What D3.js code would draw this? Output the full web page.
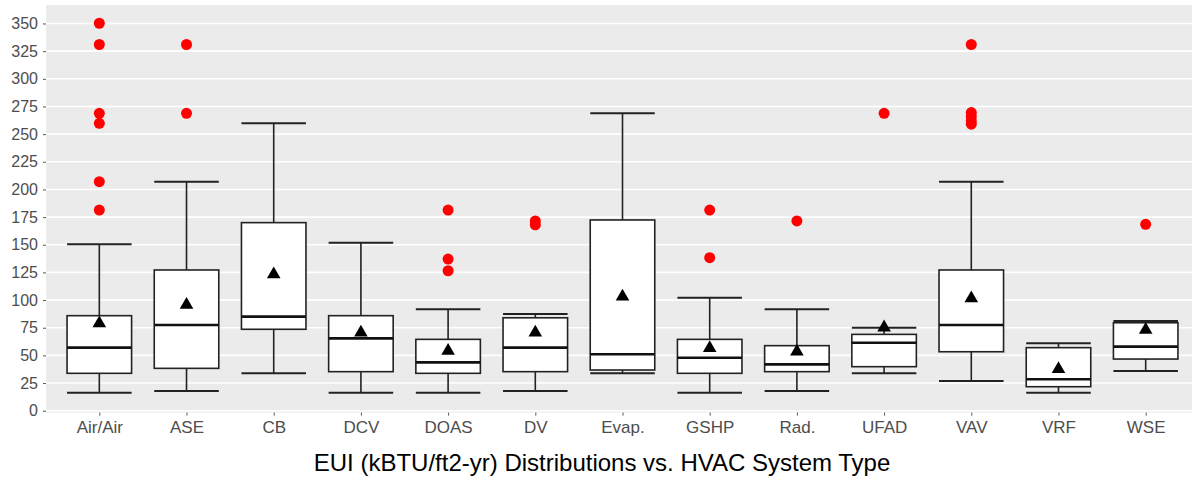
<!DOCTYPE html>
<html>
<head>
<meta charset="utf-8">
<script src="https://cdn.jsdelivr.net/npm/d3@7"></script>
<style>
  body { margin: 0; background: #fff; }
  text { font-family: "Liberation Sans", Arial, sans-serif; }
</style>
</head>
<body>
<div id="chart"></div>
<script>

// EUI distributions per HVAC system type
var systems   = ["Air/Air", "ASE", "CB", "DCV", "DOAS", "DV", "Evap.", "GSHP", "Rad.", "UFAD", "VAV", "VRF", "WSE"];
var whiskLow  = [16.3, 17.8, 33.8, 16.3, 16.3, 17.8, 33.8, 16.3, 17.8, 33.8, 26.8, 16.3, 35.9];
var q1        = [33.8, 38.3, 73.6, 35.3, 33.8, 35.3, 36.8, 33.8, 35.3, 39.8, 53.3, 21.7, 46.7];
var medians   = [57.0, 77.5, 85.0, 65.4, 43.7, 57.0, 51.0, 47.9, 41.9, 61.5, 77.5, 28.4, 57.9];
var q3        = [85.9, 127.2, 170.0, 85.9, 64.5, 84.0, 172.4, 64.5, 58.8, 69.0, 127.2, 57.0, 79.5];
var whiskHigh = [150.4, 207.0, 259.8, 151.9, 91.7, 87.4, 268.8, 102.1, 91.7, 75.0, 207.0, 60.9, 81.1];
var means     = [80.4, 97.0, 124.7, 72.0, 55.5, 72.0, 104.6, 57.9, 54.9, 76.6, 103.0, 38.9, 74.5];
var outliers  = [
  [350.2, 331.0, 268.8, 259.8, 207.0, 181.4],
  [331.0, 268.8],
  [],
  [],
  [181.4, 137.1, 126.5],
  [171.5, 168.0],
  [],
  [181.4, 138.3],
  [171.5],
  [268.8],
  [331.0, 269.5, 266.0, 262.0, 259.0],
  [],
  [168.5]
];
var yTicks = d3.range(0, 351, 25);
var title = "EUI (kBTU/ft2-yr) Distributions vs. HVAC System Type";

var width = 1192, height = 479;
var panel = {left: 46, right: 1192, top: 5, bottom: 412.6};

var svg = d3.select("#chart").append("svg")
    .attr("width", width)
    .attr("height", height);

var x = d3.scalePoint()
    .domain(systems)
    .range([47, 1198])
    .padding(0.6);

var y = d3.scaleLinear()
    .domain([-1.7, 366.7])
    .range([panel.bottom, panel.top]);

var boxW = x.step() * 0.74;

// panel background + grid
svg.append("rect")
    .attr("x", panel.left)
    .attr("y", panel.top)
    .attr("width", panel.right - panel.left)
    .attr("height", panel.bottom - panel.top)
    .attr("fill", "#ebebeb");

svg.append("g").selectAll("line")
    .data(yTicks)
    .enter().append("line")
    .attr("x1", panel.left).attr("x2", panel.right)
    .attr("y1", function(d){ return y(d); })
    .attr("y2", function(d){ return y(d); })
    .attr("stroke", "#fff")
    .attr("stroke-width", 1.6);

// axes
var yAxis = svg.append("g")
    .attr("transform", "translate(" + panel.left + ",0)")
    .call(d3.axisLeft(y).tickValues(yTicks).tickSize(3).tickPadding(5));
yAxis.select(".domain").remove();
yAxis.selectAll(".tick line").attr("stroke", "#555");
yAxis.selectAll("text")
    .attr("fill", "#4d4d4d")
    .style("font-size", "16px");

var xAxis = svg.append("g")
    .attr("transform", "translate(0," + panel.bottom + ")")
    .call(d3.axisBottom(x).tickSize(3).tickPadding(5));
xAxis.select(".domain").remove();
xAxis.selectAll(".tick line").attr("stroke", "#555");
xAxis.selectAll("text")
    .attr("fill", "#4d4d4d")
    .style("font-size", "17px");

// boxes
var boxes = svg.append("g").selectAll("g")
    .data(systems)
    .enter().append("g")
    .attr("transform", function(d){ return "translate(" + x(d) + ",0)"; });

// whisker stems
boxes.append("line")
    .attr("y1", function(d, i){ return y(whiskHigh[i]); })
    .attr("y2", function(d, i){ return y(q3[i]); })
    .attr("stroke", "#222").attr("stroke-width", 1.6);
boxes.append("line")
    .attr("y1", function(d, i){ return y(q1[i]); })
    .attr("y2", function(d, i){ return y(whiskLow[i]); })
    .attr("stroke", "#222").attr("stroke-width", 1.6);

// whisker caps
[whiskHigh, whiskLow].forEach(function(arr){
    boxes.append("line")
        .attr("x1", -boxW / 2).attr("x2", boxW / 2)
        .attr("y1", function(d, i){ return y(arr[i]); })
        .attr("y2", function(d, i){ return y(arr[i]); })
        .attr("stroke", "#222").attr("stroke-width", 2);
});

boxes.append("rect")
    .attr("x", -boxW / 2)
    .attr("width", boxW)
    .attr("y", function(d, i){ return y(q3[i]); })
    .attr("height", function(d, i){ return y(q1[i]) - y(q3[i]); })
    .attr("fill", "#fff")
    .attr("stroke", "#222")
    .attr("stroke-width", 1.6);

boxes.append("line")
    .attr("x1", -boxW / 2).attr("x2", boxW / 2)
    .attr("y1", function(d, i){ return y(medians[i]); })
    .attr("y2", function(d, i){ return y(medians[i]); })
    .attr("stroke", "#111").attr("stroke-width", 2.6);

// outliers
boxes.each(function(d, i){
    d3.select(this).selectAll("circle")
        .data(outliers[i])
        .enter().append("circle")
        .attr("cx", 0)
        .attr("cy", function(v){ return y(v); })
        .attr("r", 5.5)
        .attr("fill", "#ff0000");
});

// means (nudged so the triangle's box centre sits on the value)
var tri = d3.symbol().type(d3.symbolTriangle).size(80);
boxes.append("path")
    .attr("d", tri)
    .attr("transform", function(d, i){ return "translate(0," + (y(means[i]) + 1.5) + ")"; })
    .attr("fill", "#000");

// title
svg.append("text")
    .attr("x", 602)
    .attr("y", 471)
    .attr("text-anchor", "middle")
    .attr("fill", "#000")
    .style("font-size", "24px")
    .text(title);

</script>
</body>
</html>
